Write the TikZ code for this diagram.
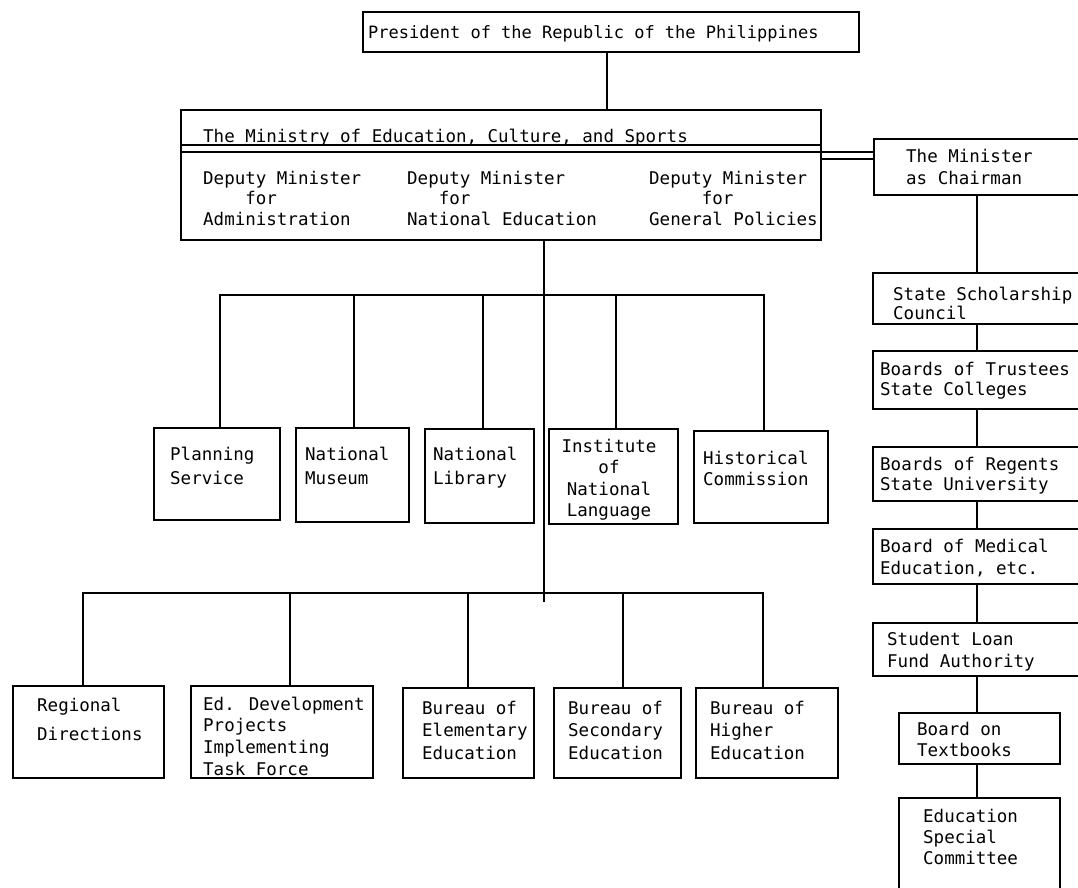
\documentclass[tikz,border=0pt]{standalone}
\usepackage{fontspec}
\newfontfamily\dmono{DejaVu Sans Mono}
\newcommand\mybox[5]{\node[box, minimum width={#4-#2}, minimum height={#5-#3}] (#1) at (#2,#3) {};}
\begin{document}
\begin{tikzpicture}[x=1pt,y=-1pt,
  box/.style={draw, line width=1.6pt, rectangle, inner sep=0pt, anchor=north west},
  txt/.style={anchor=north west, inner sep=0pt, align=left, font=\dmono\fontsize{17.5}{21.5}\selectfont},
  link/.style={line width=1.8pt},
  dbl/.style={line width=1.3pt}]
\useasboundingbox[fill=white] (0,0) rectangle (1078,887);

% ---------- boxes ----------
\mybox{pres}{362}{11}{858}{51}
\mybox{mes}{180}{109}{820}{239}
\mybox{mc}{873}{138}{1078}{194}
% upper row
\mybox{pl}{153}{427}{279}{519}
\mybox{mu}{295}{427}{408}{521}
\mybox{li}{424}{428}{533}{522}
\mybox{inl}{548}{428}{677}{523}
\mybox{hi}{693}{430}{827}{522}
% lower row
\mybox{rd}{12}{685}{163}{777}
\mybox{ed}{190}{685}{372}{777}
\mybox{el}{402}{687}{533}{777}
\mybox{se}{553}{687}{680}{777}
\mybox{hg}{695}{687}{837}{777}
% right column
\mybox{ss}{872}{272}{1078}{323}
\mybox{tr}{872}{350}{1078}{408}
\mybox{rg}{872}{446}{1078}{500}
\mybox{md}{872}{528}{1078}{583}
\mybox{sl}{872}{622}{1078}{675}
\mybox{tb}{898}{712}{1059}{763}
\mybox{es}{898}{797}{1059}{900}

% ---------- texts ----------
\node[txt, font=\dmono\fontsize{17}{21}\selectfont] (t-pres) at (368,25.5) {President of the Republic of the Philippines};
\node[txt] (t-mes) at (203,128.5) {The Ministry of Education, Culture, and Sports};
\node[txt, font=\dmono\fontsize{17.5}{20.5}\selectfont] (t-d1) at (203,170.5) {Deputy Minister\\\phantom{Depu}for\\Administration};
\node[txt, font=\dmono\fontsize{17.5}{20.5}\selectfont] (t-d2) at (407,170.5) {Deputy Minister\\\phantom{Dep}for\\National Education};
\node[txt, font=\dmono\fontsize{17.5}{20.5}\selectfont] (t-d3) at (649,170.5) {Deputy Minister\\\phantom{Deput}for\\General Policies};
\node[txt, font=\dmono\fontsize{17.5}{22}\selectfont] (t-mc) at (906,148.5) {The Minister\\as Chairman};

\node[txt, font=\dmono\fontsize{17.5}{24}\selectfont] (t-pl) at (170,446.5) {Planning\\Service};
\node[txt, font=\dmono\fontsize{17.5}{24}\selectfont] (t-mu) at (305,446.5) {National\\Museum};
\node[txt, font=\dmono\fontsize{17.5}{24}\selectfont] (t-li) at (433,446.5) {National\\Library};
\node[txt, anchor=north, align=center] (t-inl) at (609,438.5) {Institute\\of\\National\\Language};
\node[txt] (t-hi) at (703,450.5) {Historical\\Commission};

\node[txt, font=\dmono\fontsize{17.5}{29}\selectfont] (t-rd) at (37,697.5) {Regional\\Directions};
\node[txt, font=\dmono\fontsize{17.5}{21.7}\selectfont] (t-ed) at (203,696.5) {Ed. Development\\Projects\\Implementing\\Task Force};
\node[txt, font=\dmono\fontsize{17.5}{22.5}\selectfont] (t-el) at (422,700.5) {Bureau of\\Elementary\\Education};
\node[txt, font=\dmono\fontsize{17.5}{22.5}\selectfont] (t-se) at (568,700.5) {Bureau of\\Secondary\\Education};
\node[txt, font=\dmono\fontsize{17.5}{22.5}\selectfont] (t-hg) at (710,700.5) {Bureau of\\Higher\\Education};

\node[txt, font=\dmono\fontsize{17.5}{19.5}\selectfont] (t-ss) at (893,286.5) {State Scholarship\\Council};
\node[txt, font=\dmono\fontsize{17.5}{20.5}\selectfont] (t-tr) at (880,361.5) {Boards of Trustees\\State Colleges};
\node[txt, font=\dmono\fontsize{17.5}{20.5}\selectfont] (t-rg) at (880,456.5) {Boards of Regents\\State University};
\node[txt, font=\dmono\fontsize{17.5}{22}\selectfont] (t-md) at (880,538.5) {Board of Medical\\Education, etc.};
\node[txt, font=\dmono\fontsize{17.5}{22}\selectfont] (t-sl) at (887,631.5) {Student Loan\\Fund Authority};
\node[txt, font=\dmono\fontsize{17.5}{21}\selectfont] (t-tb) at (917,721.5) {Board on\\Textbooks};
\node[txt, font=\dmono\fontsize{17.5}{21}\selectfont] (t-es) at (923,808.5) {Education\\Special\\Committee};

% ---------- double rule and link to the Minister ----------
\draw[dbl] (mes.west |- 0,145) -- (mes.east |- 0,145);
\draw[dbl] (mes.west |- 0,152) -- (mc.west |- 0,152);
\draw[dbl] (mes.east |- 0,159) -- (mc.west |- 0,159);

% ---------- connectors ----------
\coordinate (xa) at (607,0);
\coordinate (xt) at (544,0);
\coordinate (xr) at (977,0);
\coordinate (bus1) at (544,295);
\coordinate (bus2) at (544,593);
\coordinate (tend) at (544,602);

\draw[link] (pres.south -| xa) -- (mes.north -| xa);
\draw[link] (mes.south -| xt) -- (tend);

\draw[link] ([xshift=3pt]pl.north) |- (bus1);
\draw[link] ([xshift=2pt]mu.north) |- (bus1);
\draw[link] ([xshift=4pt]li.north) |- (bus1);
\draw[link] ([xshift=3pt]inl.north) |- (bus1);
\draw[link] ([xshift=3pt]hi.north) |- (bus1);

\draw[link] ([xshift=-5pt]rd.north) |- (bus2);
\draw[link] ([xshift=8pt]ed.north) |- (bus2);
\draw[link] (el.north) |- (bus2);
\draw[link] ([xshift=6pt]se.north) |- (bus2);
\draw[link] ([xshift=-4pt]hg.north) |- (bus2);

\draw[link] (mc.south -| xr) -- (ss.north -| xr);
\draw[link] (ss.south -| xr) -- (tr.north -| xr);
\draw[link] (tr.south -| xr) -- (rg.north -| xr);
\draw[link] (rg.south -| xr) -- (md.north -| xr);
\draw[link] (md.south -| xr) -- (sl.north -| xr);
\draw[link] (sl.south -| xr) -- (tb.north -| xr);
\draw[link] (tb.south -| xr) -- (es.north -| xr);
\end{tikzpicture}
\end{document}
